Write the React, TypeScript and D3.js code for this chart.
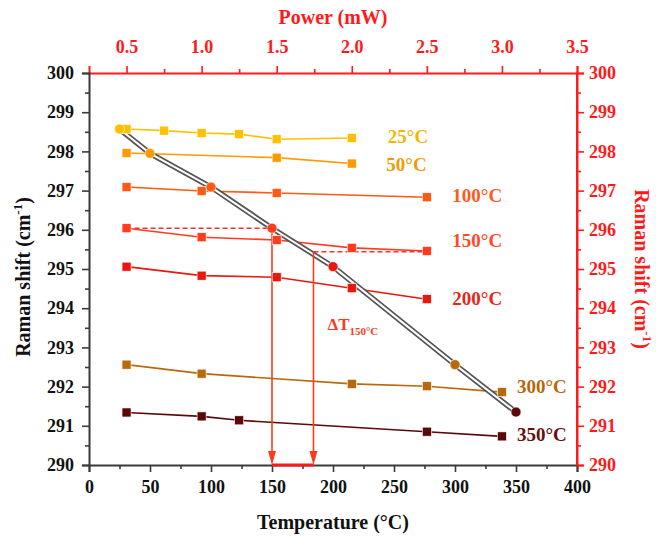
import * as d3 from "d3";
import { useEffect, useRef } from "react";

// one entry per series
const SERIES_NAMES = ["25°C", "50°C", "100°C", "150°C", "200°C", "300°C", "350°C"];
const SERIES_COLORS = ["#FFC000", "#FF9A00", "#FF5A14", "#FF3C1E", "#E8180E", "#B8690A", "#5A0808"];
const LABEL_COLORS = ["#F2B705", "#F09A0A", "#FF5A1E", "#FF4A2A", "#E8261A", "#B8680C", "#661010"];

const POWER = [
	[0.5, 0.75, 1.0, 1.25, 1.5, 2.0],
	[0.5, 1.5, 2.0],
	[0.5, 1.0, 1.5, 2.5],
	[0.5, 1.0, 1.5, 2.0, 2.5],
	[0.5, 1.0, 1.5, 2.0, 2.5],
	[0.5, 1.0, 2.0, 2.5, 3.0],
	[0.5, 1.0, 1.25, 2.5, 3.0],
];
const SHIFT = [
	[298.57, 298.53, 298.47, 298.44, 298.31, 298.34],
	[297.96, 297.84, 297.69],
	[297.09, 296.99, 296.94, 296.83],
	[296.04, 295.81, 295.74, 295.54, 295.46],
	[295.06, 294.83, 294.79, 294.51, 294.23],
	[292.56, 292.33, 292.07, 292.01, 291.86],
	[291.34, 291.24, 291.14, 290.85, 290.73],
];

// calibration curve (temperature axis)
const CAL_TEMP = [25, 50, 100, 150, 200, 300, 350];
const CAL_SHIFT = [298.57, 297.95, 297.09, 296.04, 295.06, 292.56, 291.35];

// where the series labels sit (power, shift)
const LABEL_POWER = [2.24, 2.23, 2.67, 2.67, 2.67, 3.1, 3.1];
const LABEL_SHIFT = [298.39, 297.67, 296.88, 295.73, 294.26, 292.0, 290.77];

// delta T annotation for the 150°C set
const DT_FROM = 150;
const DT_TO = 184;
const DT_SHIFT_HIGH = 296.04;
const DT_SHIFT_LOW = 295.44;
const DT_START_POWER = 0.5;
const DT_END_POWER = 2.5;

const TEMP_TICKS = [0, 50, 100, 150, 200, 250, 300, 350, 400];
const POWER_TICKS = [0.5, 1.0, 1.5, 2.0, 2.5, 3.0, 3.5];
const SHIFT_TICKS = [290, 291, 292, 293, 294, 295, 296, 297, 298, 299, 300];

const FONT = "'Liberation Serif', 'Times New Roman', serif";
const RED = "#FF1A1A";
const AXIS_GRAY = "#3a3a3a";

const App = () => {
	const svgRef = useRef(null);
	const W = 656;
	const H = 537;
	const left = 89;
	const right = 577;
	const top = 73;
	const bottom = 465;

	useEffect(() => {
		const x = d3.scaleLinear().domain([0, 400]).range([left, right]);
		const xp = d3.scaleLinear().domain([0.25, 3.5]).range([left, right]);
		const y = d3.scaleLinear().domain([290, 300]).range([bottom, top]);

		const svg = d3.select(svgRef.current);
		svg.selectAll("*").remove();
		svg.style("background", "#fff").style("font-family", FONT);

		// helper for styling axes
		const styleAxis = (g, color, size) => {
			g.select(".domain").attr("stroke", color).attr("stroke-width", 2);
			g.selectAll("line").attr("stroke", color).attr("stroke-width", 1.6);
			g.selectAll("text")
				.attr("fill", color === RED ? RED : "#111")
				.attr("font-size", size)
				.attr("font-weight", "bold")
				.attr("font-family", FONT);
		};

		// minor ticks
		const minor = (axisFn, scale, values, transform, color) => {
			const g = svg
				.append("g")
				.attr("transform", transform)
				.call(axisFn(scale).tickValues(values).tickSize(4).tickFormat(() => ""));
			g.select(".domain").remove();
			g.selectAll("line").attr("stroke", color).attr("stroke-width", 1.6);
		};

		minor(d3.axisBottom, x, d3.range(25, 400, 50), `translate(0,${bottom})`, AXIS_GRAY);
		minor(d3.axisLeft, y, d3.range(290.5, 300, 1), `translate(${left},0)`, AXIS_GRAY);
		minor(d3.axisRight, y, d3.range(290.5, 300, 1), `translate(${right},0)`, RED);
		minor(d3.axisTop, xp, d3.range(0.75, 3.5, 0.5), `translate(0,${top})`, RED);

		const xAxis = svg
			.append("g")
			.attr("transform", `translate(0,${bottom})`)
			.call(d3.axisBottom(x).tickValues(TEMP_TICKS).tickSize(7).tickPadding(8));
		styleAxis(xAxis, AXIS_GRAY, 18);

		const topAxis = svg
			.append("g")
			.attr("transform", `translate(0,${top})`)
			.call(
				d3.axisTop(xp)
					.tickValues(POWER_TICKS)
					.tickSize(7)
					.tickPadding(13)
					.tickFormat(d3.format(".1f"))
			);
		styleAxis(topAxis, RED, 18);

		const yAxis = svg
			.append("g")
			.attr("transform", `translate(${left},0)`)
			.call(d3.axisLeft(y).tickValues(SHIFT_TICKS).tickSize(7).tickPadding(8));
		styleAxis(yAxis, AXIS_GRAY, 18);

		const yRight = svg
			.append("g")
			.attr("transform", `translate(${right},0)`)
			.call(d3.axisRight(y).tickValues(SHIFT_TICKS).tickSize(7).tickPadding(5));
		styleAxis(yRight, RED, 18);

		// red right frame line
		svg.append("line")
			.attr("x1", right).attr("x2", right)
			.attr("y1", top).attr("y2", bottom)
			.attr("stroke", RED).attr("stroke-width", 2);

		// axis titles
		svg.append("text")
			.attr("x", (left + right) / 2)
			.attr("y", 529)
			.attr("text-anchor", "middle")
			.attr("font-size", 20)
			.attr("font-weight", "bold")
			.attr("fill", "#111")
			.text("Temperature (°C)");

		svg.append("text")
			.attr("x", (left + right) / 2)
			.attr("y", 24)
			.attr("text-anchor", "middle")
			.attr("font-size", 20)
			.attr("font-weight", "bold")
			.attr("fill", RED)
			.text("Power (mW)");

		const yTitle = (xPos, yPos, rot, color) => {
			const t = svg
				.append("text")
				.attr("transform", `translate(${xPos},${yPos}) rotate(${rot})`)
				.attr("text-anchor", "middle")
				.attr("font-size", 20)
				.attr("font-weight", "bold")
				.attr("fill", color);
			t.append("tspan").text("Raman shift (cm");
			t.append("tspan").attr("dy", -8).attr("font-size", 13).text("-1");
			t.append("tspan").attr("dy", 8).text(")");
		};
		yTitle(30, 277, -90, "#111");
		yTitle(635, 269, 90, RED);

		const plot = svg.append("g");

		// series lines
		const line = d3.line().x((d) => xp(d[0])).y((d) => y(d[1]));
		SERIES_NAMES.forEach((_, i) => {
			const pts = POWER[i].map((p, j) => [p, SHIFT[i][j]]);
			plot.append("path")
				.attr("d", line(pts))
				.attr("fill", "none")
				.attr("stroke", SERIES_COLORS[i])
				.attr("stroke-width", 1.6);
		});

		// dashed guides for delta T
		plot.append("line")
			.attr("x1", xp(DT_START_POWER)).attr("x2", x(DT_FROM))
			.attr("y1", y(DT_SHIFT_HIGH)).attr("y2", y(DT_SHIFT_HIGH))
			.attr("stroke", "#FF3030").attr("stroke-width", 1.6)
			.attr("stroke-dasharray", "5,3");
		plot.append("line")
			.attr("x1", x(DT_TO)).attr("x2", xp(DT_END_POWER))
			.attr("y1", y(DT_SHIFT_LOW)).attr("y2", y(DT_SHIFT_LOW))
			.attr("stroke", "#FF3030").attr("stroke-width", 1.6)
			.attr("stroke-dasharray", "5,3");

		// calibration curve drawn as a double line
		const calPts = CAL_TEMP.map((t, i) => [t, CAL_SHIFT[i]]);
		const calLine = d3.line().x((d) => x(d[0])).y((d) => y(d[1]));
		plot.append("path")
			.attr("d", calLine(calPts))
			.attr("fill", "none")
			.attr("stroke", "#555")
			.attr("stroke-width", 5.5);
		plot.append("path")
			.attr("d", calLine(calPts))
			.attr("fill", "none")
			.attr("stroke", "#fff")
			.attr("stroke-width", 2);

		// arrows down to the temperature axis
		[
			[DT_FROM, DT_SHIFT_HIGH],
			[DT_TO, DT_SHIFT_LOW],
		].forEach(([t, s]) => {
			const ax = x(t);
			plot.append("line")
				.attr("x1", ax).attr("x2", ax)
				.attr("y1", y(s)).attr("y2", y(290) - 10)
				.attr("stroke", "#FF3A1A").attr("stroke-width", 1.6);
			plot.append("path")
				.attr("d", `M${ax - 4},${y(290) - 14}L${ax + 4},${y(290) - 14}L${ax},${y(290)}Z`)
				.attr("fill", "#FF3A1A");
		});
		plot.append("line")
			.attr("x1", x(DT_FROM)).attr("x2", x(DT_TO))
			.attr("y1", y(290)).attr("y2", y(290))
			.attr("stroke", "#FF1A1A").attr("stroke-width", 3);

		// markers
		SERIES_NAMES.forEach((_, i) => {
			POWER[i].forEach((p, j) => {
				plot.append("rect")
					.attr("x", xp(p) - 4.5)
					.attr("y", y(SHIFT[i][j]) - 4.5)
					.attr("width", 9)
					.attr("height", 9)
					.attr("fill", SERIES_COLORS[i])
					.attr("stroke", "#fff")
					.attr("stroke-width", 0.6);
			});
		});
		CAL_TEMP.forEach((t, i) => {
			plot.append("circle")
				.attr("cx", x(t))
				.attr("cy", y(CAL_SHIFT[i]))
				.attr("r", 5)
				.attr("fill", SERIES_COLORS[i])
				.attr("stroke", "#fff")
				.attr("stroke-width", 0.6);
		});

		// series labels
		SERIES_NAMES.forEach((name, i) => {
			plot.append("text")
				.attr("x", xp(LABEL_POWER[i]))
				.attr("y", y(LABEL_SHIFT[i]))
				.attr("dy", "0.35em")
				.attr("font-size", 19)
				.attr("font-weight", "bold")
				.attr("fill", LABEL_COLORS[i])
				.text(name);
		});

		// delta T label
		const dt = plot.append("text")
			.attr("x", x(DT_TO) + 14)
			.attr("y", y(293.45))
			.attr("font-size", 17)
			.attr("font-weight", "bold")
			.attr("fill", "#FF3A1A");
		dt.append("tspan").text("ΔT");
		dt.append("tspan").attr("dy", 5).attr("font-size", 11).text("150°C");
	}, []);

	return (
		<svg
			ref={svgRef}
			width={W}
			height={H}
			style={{ position: "absolute", left: 0, top: 0 }}
		/>
	);
};

export default App;
